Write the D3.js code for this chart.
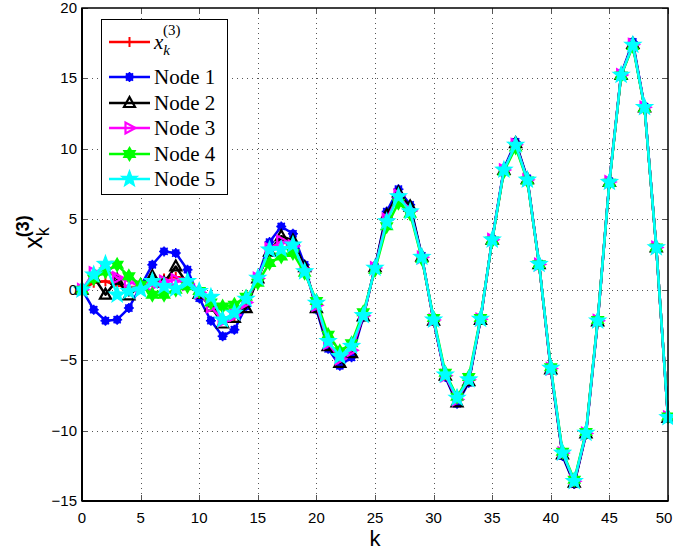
<!DOCTYPE html>
<html>
<head>
<meta charset="utf-8">
<script src="https://cdn.jsdelivr.net/npm/d3@7"></script>
<style>
  body { margin: 0; background: #fff; }
  svg { display: block; }
  .tick-label { font-family: "Liberation Sans", Arial, sans-serif; font-size: 15px; fill: #000; }
</style>
</head>
<body>
<div id="chart"></div>
<script>
const WIDTH = 673;
const HEIGHT = 552;
const LEFT = 82, RIGHT = 668, TOP = 8, BOTTOM = 501;

// k = 0..50
var K = d3.range(0, 51);

var X_TICKS = [0, 5, 10, 15, 20, 25, 30, 35, 40, 45, 50];
var Y_TICKS = [-15, -10, -5, 0, 5, 10, 15, 20];

// values
var REF = [0, 0.5, 0.6, 0.3, 0.2, 0.2, 0.5, 0.8, 0.9, 0.6, -0.2, -1.1, -2.0, -1.9, -0.9, 0.8, 2.9, 3.5, 3.2, 1.5,
  -1.1, -3.8, -5.0, -4.3, -1.9, 1.55, 5.0, 6.7, 5.7, 2.3, -2.2, -6.1, -7.9, -6.5, -2.1, 3.55, 8.5, 10.3, 7.8, 1.8,
  -5.6, -11.7, -13.8, -10.2, -2.2, 7.65, 15.25, 17.4, 12.95, 3.0, -9.1];
var NODE1 = [0, -1.42, -2.2, -2.13, -1.3, 0.24, 1.77, 2.72, 2.6, 1.42, -0.6, -2.2, -3.3, -2.84, -1.18, 0.9, 3.38, 4.49, 3.97, 1.77,
  -1.4, -4.2, -5.4, -4.8, -1.95, 1.6, 5.55, 7.14, 6.03, 2.4, -2.2, -6.2, -8.1, -6.6, -2.15, 3.6, 8.6, 10.5, 7.9, 1.85,
  -5.7, -11.8, -13.8, -10.3, -2.3, 7.7, 15.3, 17.6, 13.0, 3.0, -9.1];
var NODE2 = [0, 0.9, -0.35, 0.7, -0.4, 0.3, 0.95, 0.5, 1.65, 0.4, -0.3, -1.2, -2.4, -2.0, -1.3, 0.8, 2.7, 3.8, 3.5, 1.6,
  -1.3, -4.0, -5.2, -4.5, -1.9, 1.6, 5.3, 6.9, 5.9, 2.35, -2.2, -6.1, -8.0, -6.5, -2.15, 3.55, 8.5, 10.4, 7.85, 1.82,
  -5.65, -11.7, -13.7, -10.2, -2.25, 7.65, 15.25, 17.45, 12.95, 3.0, -9.1];
var NODE3 = [0, 1.2, 1.5, 0.85, 0.6, 0.2, 0.3, 0.6, 0.7, 0.4, -0.2, -1.2, -2.2, -1.8, -0.9, 0.8, 2.9, 3.43, 3.1, 1.4,
  -1.1, -3.8, -4.9, -4.3, -1.85, 1.55, 5.0, 6.7, 5.6, 2.3, -2.15, -6.1, -7.8, -6.4, -2.1, 3.55, 8.5, 10.3, 7.8, 1.8,
  -5.6, -11.6, -13.6, -10.2, -2.2, 7.65, 15.25, 17.4, 12.95, 3.0, -9.05];
var NODE4 = [0, 0.8, 1.3, 1.77, 0.95, 0.35, -0.35, -0.35, 0.0, 0.24, -0.1, -0.9, -1.2, -1.06, -0.5, 0.5, 1.9, 2.36, 2.6, 1.2,
  -0.8, -3.2, -4.37, -3.8, -1.6, 1.4, 4.5, 6.17, 5.4, 2.2, -2.0, -5.9, -7.6, -6.2, -2.0, 3.5, 8.4, 10.1, 7.75, 1.8,
  -5.5, -11.5, -13.5, -10.1, -2.15, 7.6, 15.2, 17.3, 12.9, 3.0, -9.0];
var NODE5 = [0, 1.06, 1.82, -0.35, -0.1, 0.0, 0.6, 0.25, 0.07, 0.6, -0.1, -0.52, -2.13, -1.65, -0.66, 0.83, 2.84, 2.88, 3.19, 1.3,
  -0.94, -3.66, -4.73, -4.0, -1.82, 1.54, 4.85, 6.62, 5.55, 2.32, -2.13, -6.03, -7.68, -6.38, -2.08, 3.55, 8.51, 10.28, 7.8, 1.82,
  -5.55, -11.58, -13.6, -10.17, -2.2, 7.64, 15.25, 17.38, 12.96, 3.0, -9.06];

var SERIES = [
  { name: "x", values: REF, color: "#ff0000", marker: "plus" },
  { name: "Node 1", values: NODE1, color: "#0000ff", marker: "dot" },
  { name: "Node 2", values: NODE2, color: "#000000", marker: "triUp" },
  { name: "Node 3", values: NODE3, color: "#ff00ff", marker: "triRight" },
  { name: "Node 4", values: NODE4, color: "#00ff00", marker: "hexagram" },
  { name: "Node 5", values: NODE5, color: "#00ffff", marker: "pentagram" }
];

var xScale = d3.scaleLinear().domain([0, 50]).range([LEFT, RIGHT]);
var yScale = d3.scaleLinear().domain([-15, 20]).range([BOTTOM, TOP]);

var svg = d3.select("#chart").append("svg")
  .attr("width", WIDTH).attr("height", HEIGHT);

//Grid
var grid = svg.append("g").attr("stroke", "#555").attr("stroke-width", 1)
  .attr("stroke-dasharray", "1,4");
grid.selectAll(".gx").data(X_TICKS.slice(1, -1)).enter().append("line")
  .attr("x1", d => Math.round(xScale(d)) + 0.5).attr("x2", d => Math.round(xScale(d)) + 0.5)
  .attr("y1", TOP).attr("y2", BOTTOM);
grid.selectAll(".gy").data(Y_TICKS.slice(1, -1)).enter().append("line")
  .attr("y1", d => Math.round(yScale(d)) + 0.5).attr("y2", d => Math.round(yScale(d)) + 0.5)
  .attr("x1", LEFT).attr("x2", RIGHT);

//Inner tick marks
var ticks = svg.append("g").attr("stroke", "#555").attr("stroke-width", 1);
X_TICKS.forEach(function (t) {
  var x = Math.round(xScale(t)) + 0.5;
  ticks.append("line").attr("x1", x).attr("x2", x).attr("y1", BOTTOM).attr("y2", BOTTOM - 6);
  ticks.append("line").attr("x1", x).attr("x2", x).attr("y1", TOP).attr("y2", TOP + 6);
});
Y_TICKS.forEach(function (t) {
  var y = Math.round(yScale(t)) + 0.5;
  ticks.append("line").attr("y1", y).attr("y2", y).attr("x1", LEFT).attr("x2", LEFT + 6);
  ticks.append("line").attr("y1", y).attr("y2", y).attr("x1", RIGHT).attr("x2", RIGHT - 6);
});

//Marker shapes
function hexagramPath(r) {
  var tri = function (rot) {
    return d3.range(3).map(function (i) {
      var a = rot + i * 2 * Math.PI / 3;
      return [r * Math.sin(a), -r * Math.cos(a)];
    });
  };
  var p = "";
  [tri(0), tri(Math.PI)].forEach(function (pts) {
    p += "M" + pts.map(q => q[0].toFixed(2) + "," + q[1].toFixed(2)).join("L") + "Z";
  });
  return p;
}
function pentagramPath(r) {
  var pts = [];
  for (var i = 0; i < 10; i++) {
    var rr = i % 2 === 0 ? r : r * 0.42;
    var a = i * Math.PI / 5;
    pts.push([rr * Math.sin(a), -rr * Math.cos(a)]);
  }
  return "M" + pts.map(q => q[0].toFixed(2) + "," + q[1].toFixed(2)).join("L") + "Z";
}
function drawMarker(g, type, color, x, y) {
  var m = g.append("g").attr("transform", "translate(" + x + "," + y + ")");
  if (type === "plus") {
    m.append("path").attr("d", "M-5,0H5M0,-5V5").attr("stroke", color).attr("stroke-width", 2);
  } else if (type === "dot") {
    m.append("circle").attr("r", 4.2).attr("fill", color);
    m.append("path").attr("d", "M-5,0H5M0,-5V5M-3.6,-3.6L3.6,3.6M-3.6,3.6L3.6,-3.6")
      .attr("stroke", color).attr("stroke-width", 1.5);
  } else if (type === "triUp") {
    m.append("path").attr("d", "M0,-6L5.5,4L-5.5,4Z").attr("fill", "none")
      .attr("stroke", color).attr("stroke-width", 2.2);
  } else if (type === "triRight") {
    m.append("path").attr("d", "M6,0L-4,-5.5L-4,5.5Z").attr("fill", "none")
      .attr("stroke", color).attr("stroke-width", 2.2);
  } else if (type === "hexagram") {
    m.append("path").attr("d", hexagramPath(6.5)).attr("fill", color)
      .attr("stroke", color).attr("stroke-width", 1.5);
  } else if (type === "pentagram") {
    m.append("path").attr("d", pentagramPath(8.5)).attr("fill", color)
      .attr("stroke", color).attr("stroke-width", 1.2);
  }
}

//Series
var line = d3.line().x((d, i) => xScale(K[i])).y(d => yScale(d));
var plot = svg.append("g");
SERIES.forEach(function (s) {
  plot.append("path").datum(s.values).attr("d", line).attr("fill", "none")
    .attr("stroke", s.color).attr("stroke-width", 2.5).attr("stroke-linejoin", "round");
  var mg = plot.append("g");
  s.values.forEach(function (v, i) {
    drawMarker(mg, s.marker, s.color, xScale(K[i]), yScale(v));
  });
});

//Frame
svg.append("rect").attr("x", LEFT).attr("y", TOP)
  .attr("width", RIGHT - LEFT).attr("height", BOTTOM - TOP)
  .attr("fill", "none").attr("stroke", "#000").attr("stroke-width", 1.5);
svg.append("line").attr("x1", LEFT).attr("x2", LEFT).attr("y1", TOP).attr("y2", BOTTOM)
  .attr("stroke", "#000").attr("stroke-width", 2);
svg.append("line").attr("x1", LEFT).attr("x2", RIGHT).attr("y1", BOTTOM).attr("y2", BOTTOM)
  .attr("stroke", "#000").attr("stroke-width", 2);

//Tick labels
svg.selectAll(".xl").data(X_TICKS).enter().append("text")
  .attr("class", "tick-label").attr("x", d => Math.min(xScale(d), WIDTH - 9)).attr("y", BOTTOM + 22)
  .attr("text-anchor", "middle").text(d => d);
svg.selectAll(".yl").data(Y_TICKS).enter().append("text")
  .attr("class", "tick-label").attr("x", LEFT - 5).attr("y", d => yScale(d) + 5)
  .attr("text-anchor", "end").text(d => d < 0 ? "\u2212" + Math.abs(d) : d);

//Axis titles
svg.append("text").attr("x", (LEFT + RIGHT) / 2).attr("y", 546)
  .attr("text-anchor", "middle").attr("font-family", "Liberation Sans, Arial, sans-serif")
  .attr("font-size", 22).text("k");
var yl = svg.append("text").attr("transform", "translate(42,232) rotate(-90)")
  .attr("text-anchor", "middle").attr("font-family", "Liberation Sans, Arial, sans-serif")
  .attr("font-size", 25);
yl.append("tspan").text("x");
yl.append("tspan").attr("font-size", 18).attr("dy", 7).text("k");
yl.append("tspan").attr("font-size", 18).attr("font-weight", "bold").attr("dx", -10).attr("dy", -20).text("(3)");

//Legend
var legend = svg.append("g");
legend.append("rect").attr("x", 101.5).attr("y", 19.5).attr("width", 126).attr("height", 175)
  .attr("fill", "#fff").attr("stroke", "#000").attr("stroke-width", 1);
var LEG_Y = [42, 77, 103, 128, 154, 179];
SERIES.forEach(function (s, i) {
  var y = LEG_Y[i];
  legend.append("line").attr("x1", 109).attr("x2", 150).attr("y1", y).attr("y2", y)
    .attr("stroke", s.color).attr("stroke-width", 2.5);
  drawMarker(legend, s.marker, s.color, 129.5, y);
  var t = legend.append("text").attr("x", 154).attr("y", y + 7)
    .attr("font-family", "Liberation Serif, Times New Roman, serif").attr("font-size", 21);
  if (i === 0) {
    t.append("tspan").attr("font-style", "italic").text("x");
    t.append("tspan").attr("font-size", 15).attr("font-style", "italic").attr("dy", 6).text("k");
    t.append("tspan").attr("font-size", 15).attr("dx", -7).attr("dy", -20).text("(3)");
  } else {
    t.text(s.name);
  }
});
</script>
</body>
</html>
